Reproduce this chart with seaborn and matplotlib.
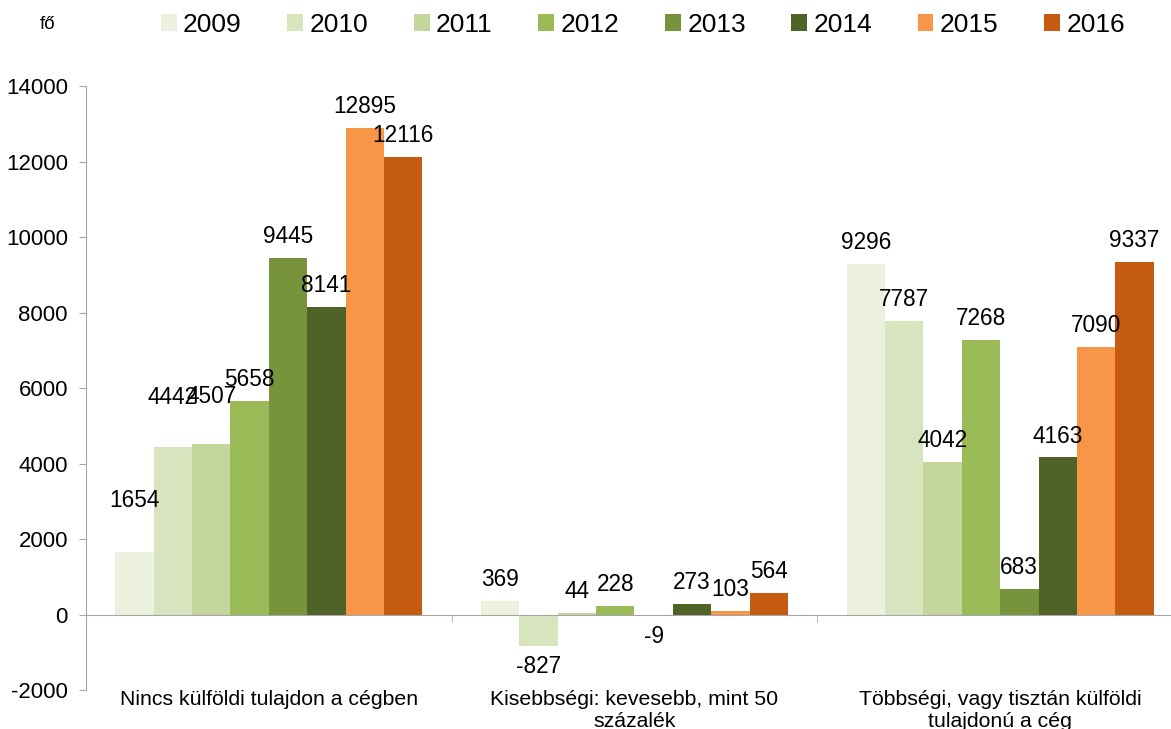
import pandas as pd
import matplotlib
matplotlib.use("Agg")
import matplotlib.pyplot as plt
import seaborn as sns

# adatok
categories = ["Nincs külföldi tulajdon a cégben",
              "Kisebbségi: kevesebb, mint 50\nszázalék",
              "Többségi, vagy tisztán külföldi\ntulajdonú a cég"]
years = ["2009", "2010", "2011", "2012", "2013", "2014", "2015", "2016"]
values = {
    "2009": [1654, 369, 9296],
    "2010": [4442, -827, 7787],
    "2011": [4507, 44, 4042],
    "2012": [5658, 228, 7268],
    "2013": [9445, -9, 683],
    "2014": [8141, 273, 4163],
    "2015": [12895, 103, 7090],
    "2016": [12116, 564, 9337],
}
colors = ["#EBF1DE", "#D7E4BD", "#C3D69B", "#9BBB59",
          "#77933C", "#4F6228", "#F79646", "#C55A11"]

rows = []
for y in years:
    for c, v in zip(categories, values[y]):
        rows.append({"kategoria": c, "ev": y, "fo": v})
df = pd.DataFrame(rows)

sns.set_style("white")
plt.rcParams["font.family"] = ["Liberation Sans", "DejaVu Sans"]
plt.rcParams["text.color"] = "black"
plt.rcParams["xtick.color"] = "black"
plt.rcParams["ytick.color"] = "black"
plt.rcParams["axes.unicode_minus"] = False
gray = "#A6A6A6"

fig = plt.figure(figsize=(11.71, 7.29), dpi=100)
ax = fig.add_axes([0.0734, 0.0535, 0.9368, 0.8285])

sns.barplot(data=df, x="kategoria", y="fo", hue="ev", hue_order=years,
            order=categories, palette=colors, saturation=1,
            width=0.84, gap=0, errorbar=None, linewidth=0, ax=ax)

# címkék a sávok fölött (néhány kézzel feljebb tolva, mint az eredetin)
raised = {0: 29, 1: 27, 2: 26}
for i, cont in enumerate(ax.containers):
    labs = ax.bar_label(cont, fmt="%.0f", padding=7, fontsize=16.3)
    if i in raised:
        labs[0].xyann = (0, raised[i])

ax.set_ylim(-2000, 14000)
ax.set_xlim(-0.5, 2.5)
ax.set_yticks(range(-2000, 14001, 2000))
ax.set_xlabel("")
ax.set_ylabel("")

for s in ["top", "right"]:
    ax.spines[s].set_visible(False)
ax.spines["left"].set_color(gray)
ax.spines["bottom"].set_color(gray)
ax.spines["bottom"].set_position(("data", 0))

ax.tick_params(axis="y", length=5, color=gray, labelsize=16, pad=8, left=True)
ax.set_xticks([0.5, 1.5], minor=True)
ax.tick_params(axis="x", which="minor", length=5, color=gray, bottom=True)
ax.tick_params(axis="x", which="major", length=0, labelsize=15.3, pad=54)

handles, labels = ax.get_legend_handles_labels()
ax.get_legend().remove()
fig.legend(handles, labels, loc="center", bbox_to_anchor=(0.549, 0.966),
           ncol=8, frameon=False, fontsize=19, handlelength=0.6,
           handleheight=0.6, handletextpad=0.25, columnspacing=1.72)

fig.text(0.034, 0.966, "fő", fontsize=13.5, va="center")

fig.savefig("out.png", dpi=100)
